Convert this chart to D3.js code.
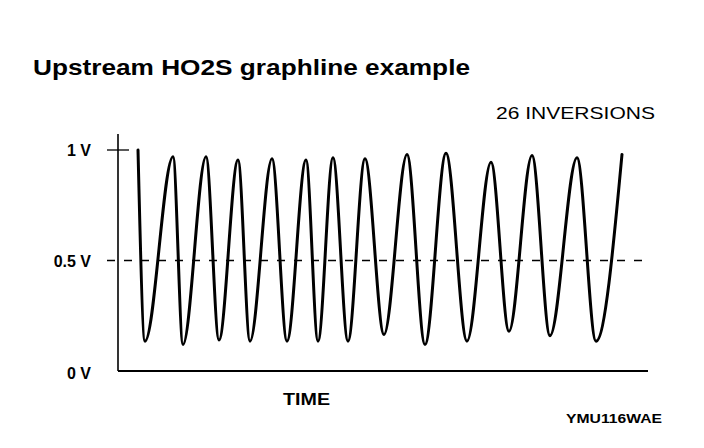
<!DOCTYPE html>
<html>
<head>
<meta charset="utf-8">
<script src="https://cdn.jsdelivr.net/npm/d3@7"></script>
<style>
  html, body { margin: 0; padding: 0; background: #fff; }
  svg { display: block; }
  text { font-family: "Liberation Sans", Arial, sans-serif; fill: #000; }
</style>
</head>
<body>
<svg id="chart" width="704" height="448"></svg>
<script>
// ---- data (time in arbitrary units, voltage in V) ----
const sampleTime = [2.0, 2.7, 5.5, 6.5, 8.8, 10.1, 12.0, 13.2, 15.4, 16.9, 18.8, 20.0, 21.5, 23.0,
                    24.7, 26.6, 28.9, 30.7, 32.8, 34.9, 37.3, 39.1, 41.4, 43.2, 45.9, 47.8, 50.4];
const sampleVolts = [1.00, 0.135, 0.97, 0.12, 0.97, 0.14, 0.955, 0.135, 0.96, 0.135, 0.955, 0.135, 0.965, 0.135,
                     0.96, 0.165, 0.98, 0.12, 0.985, 0.135, 0.945, 0.18, 0.975, 0.16, 0.965, 0.135, 0.98];
const yTickValues = [0, 0.5, 1];
const yTickLabels = ["0 V", "0.5 V", "1 V"];
const thresholdVolts = 0.5;
const titleText = "Upstream HO2S graphline example";
const inversionsText = "26 INVERSIONS";
const xAxisLabel = "TIME";
const figureCode = "YMU116WAE";

const svg = d3.select("#chart");
const x = d3.scaleLinear().domain([0, 53]).range([118, 648]);
const y = d3.scaleLinear().domain([0, 1]).range([371, 150]);

// title
svg.append("text").attr("x", 33).attr("y", 75)
  .attr("font-size", 22).attr("font-weight", "bold")
  .attr("textLength", 437).attr("lengthAdjust", "spacingAndGlyphs")
  .text(titleText);

svg.append("text").attr("x", 496).attr("y", 119)
  .attr("font-size", 17)
  .attr("textLength", 159).attr("lengthAdjust", "spacingAndGlyphs")
  .text(inversionsText);

// axes
svg.append("line").attr("x1", x(0)).attr("x2", x(0))
  .attr("y1", y(1) - 16).attr("y2", y(0))
  .attr("stroke", "#000").attr("stroke-width", 1.6);
svg.append("line").attr("x1", x(0)).attr("x2", x(53))
  .attr("y1", y(0)).attr("y2", y(0))
  .attr("stroke", "#000").attr("stroke-width", 1.8);

// 1 V tick crossing the axis
svg.append("line").attr("x1", x(0) - 11).attr("x2", x(0) + 11)
  .attr("y1", y(1)).attr("y2", y(1))
  .attr("stroke", "#000").attr("stroke-width", 1.3);

// threshold dashed line
svg.append("line").attr("x1", x(0) - 11).attr("x2", x(52.7))
  .attr("y1", y(thresholdVolts)).attr("y2", y(thresholdVolts))
  .attr("stroke", "#000").attr("stroke-width", 1.3)
  .attr("stroke-dasharray", "8,9");

// y tick labels
svg.append("g").selectAll("text").data(yTickValues).join("text")
  .attr("x", 91).attr("y", d => y(d) + 6 + (d === 0 ? 2 : 0))
  .attr("text-anchor", "end").attr("font-size", 16).attr("font-weight", "bold")
  .text((d, i) => yTickLabels[i]);

// waveform
const pts = sampleTime.map((t, i) => [t, sampleVolts[i]]);
svg.append("path").datum(pts)
  .attr("fill", "none").attr("stroke", "#000").attr("stroke-width", 3)
  .attr("stroke-linejoin", "round").attr("stroke-linecap", "round")
  .attr("d", d3.line().x(d => x(d[0])).y(d => y(d[1])).curve(d3.curveMonotoneX));

// x label
svg.append("text").attr("x", 283).attr("y", 405)
  .attr("font-size", 16).attr("font-weight", "bold")
  .attr("textLength", 47).attr("lengthAdjust", "spacingAndGlyphs")
  .text(xAxisLabel);

svg.append("text").attr("x", 566).attr("y", 423)
  .attr("font-size", 12).attr("font-weight", "bold")
  .attr("textLength", 96).attr("lengthAdjust", "spacingAndGlyphs")
  .text(figureCode);
</script>
</body>
</html>
